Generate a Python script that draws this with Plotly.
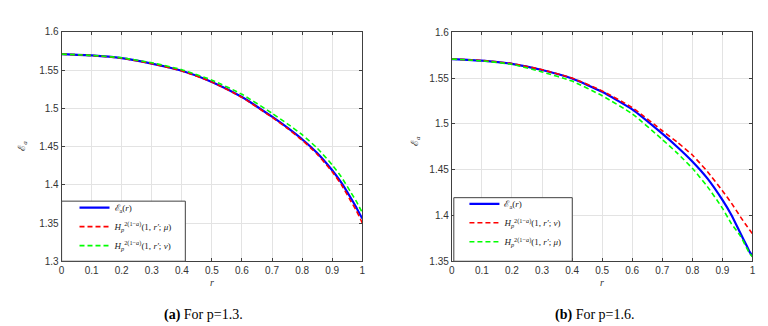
import plotly.graph_objects as go

# radius values sampled along the curves
r = [0, 0.1, 0.2, 0.3, 0.4, 0.5, 0.6, 0.7, 0.75, 0.8, 0.85, 0.9, 0.93, 0.96, 0.98, 0.99, 1.0]

# (a) p = 1.3
ea_a = [1.5708, 1.5691, 1.5655, 1.5585, 1.5490, 1.5345, 1.5148, 1.4890, 1.4750, 1.4595, 1.4415, 1.4190, 1.4030, 1.3840, 1.3705, 1.3630, 1.3560]
h_mu_a = [1.5708, 1.5691, 1.5655, 1.5584, 1.5488, 1.5342, 1.5143, 1.4882, 1.4740, 1.4583, 1.4400, 1.4170, 1.4005, 1.3800, 1.3665, 1.3585, 1.3500]
h_nu_a = [1.5708, 1.5692, 1.5660, 1.5595, 1.5505, 1.5368, 1.5183, 1.4935, 1.4800, 1.4655, 1.4480, 1.4260, 1.4105, 1.3915, 1.3785, 1.3710, 1.3640]

# (b) p = 1.6
ea_b = [1.5708, 1.5691, 1.5656, 1.5588, 1.5495, 1.5350, 1.5158, 1.4893, 1.4748, 1.4590, 1.4405, 1.4170, 1.4005, 1.3805, 1.3675, 1.3605, 1.3555]
h_nu_b = [1.5708, 1.5692, 1.5658, 1.5592, 1.5500, 1.5360, 1.5178, 1.4925, 1.4800, 1.4660, 1.4480, 1.4270, 1.4135, 1.3985, 1.3890, 1.3845, 1.3800]
h_mu_b = [1.5708, 1.5688, 1.5650, 1.5567, 1.5467, 1.5307, 1.5110, 1.4830, 1.4680, 1.4515, 1.4315, 1.4080, 1.3910, 1.3775, 1.3650, 1.3590, 1.3550]

x_ticks = [0, 0.1, 0.2, 0.3, 0.4, 0.5, 0.6, 0.7, 0.8, 0.9, 1]

lbl_e = "ℰ<sub>a</sub>(<i>r</i>)"
lbl_mu = "<i>H</i><sub><i>p</i></sub><sup>2(1−<i>a</i>)</sup>(1, <i>r′</i>; <i>μ</i>)"
lbl_nu = "<i>H</i><sub><i>p</i></sub><sup>2(1−<i>a</i>)</sup>(1, <i>r′</i>; <i>ν</i>)"

W, H = 768, 326

fig = go.Figure()

def add_panel(fig, xa, ya, leg, series):
    for name, y, color, dash, width in series:
        fig.add_trace(go.Scatter(
            x=r, y=y, mode='lines', name=name,
            line=dict(color=color, dash=dash, width=width, shape='spline', smoothing=0.5),
            xaxis=xa, yaxis=ya, legend=leg,
        ))

add_panel(fig, 'x', 'y', 'legend', [
    (lbl_e, ea_a, '#0000ff', 'solid', 2.2),
    (lbl_mu, h_mu_a, '#ff0000', '5px,3px', 1.6),
    (lbl_nu, h_nu_a, '#00ff00', '5px,3px', 1.6),
])
add_panel(fig, 'x2', 'y2', 'legend2', [
    (lbl_e, ea_b, '#0000ff', 'solid', 2.2),
    (lbl_nu, h_nu_b, '#ff0000', '5px,3px', 1.6),
    (lbl_mu, h_mu_b, '#00ff00', '5px,3px', 1.6),
])

axis_style = dict(
    showline=True, mirror='ticks', linecolor='#404040', linewidth=1,
    ticks='inside', ticklen=3, tickcolor='#404040',
    showgrid=True, gridcolor='#e3e3e3', gridwidth=1, zeroline=False,
    tickfont=dict(family='Liberation Sans', size=10, color='#333333'),
)

# plot areas in pixels: left, right, top, bottom
boxes = [(51, 354, 18.5, 256.7), (444.3, 747.3, 19, 256.7)]

fig.update_layout(
    xaxis=dict(axis_style, domain=[boxes[0][0] / W, boxes[0][1] / W], range=[0, 1],
               tickvals=x_ticks, anchor='y'),
    yaxis=dict(axis_style, domain=[1 - boxes[0][3] / H, 1 - boxes[0][2] / H], range=[1.3, 1.6],
               dtick=0.05, tick0=1.3, anchor='x'),
    xaxis2=dict(axis_style, domain=[boxes[1][0] / W, boxes[1][1] / W], range=[0, 1],
                tickvals=x_ticks, anchor='y2'),
    yaxis2=dict(axis_style, domain=[1 - boxes[1][3] / H, 1 - boxes[1][2] / H], range=[1.35, 1.6],
                dtick=0.05, tick0=1.35, anchor='x2'),
    width=W, height=H,
    margin=dict(l=0, r=0, t=0, b=0),
    paper_bgcolor='white', plot_bgcolor='white',
    showlegend=True,
)

leg_style = dict(
    bgcolor='rgba(0,0,0,0)', borderwidth=0, itemwidth=30,
    font=dict(family='Liberation Serif', size=9, color='#222222'),
    xanchor='left', yanchor='top', tracegroupgap=0,
)
fig.update_layout(
    legend=dict(leg_style, x=64 / W, y=1 - 186 / H),
    legend2=dict(leg_style, x=457 / W, y=1 - 182 / H),
)

# legend frames (white boxes hiding the grid, as in the original)
legend_boxes = [(51, 175.7, 194.3, 256.7), (446.3, 565.7, 190.7, 256.7)]
for x0, x1, y0, y1 in legend_boxes:
    fig.add_shape(type='rect', xref='paper', yref='paper',
                  x0=x0 / W, x1=x1 / W, y0=1 - y1 / H, y1=1 - y0 / H,
                  line=dict(color='#404040', width=1), fillcolor='white', layer='above')

# axis titles and captions
texts = [
    ("<i>r</i>", 202.3, 278.3, 10, 'Liberation Serif', 0),
    ("<i>r</i>", 595.7, 278.3, 10, 'Liberation Serif', 0),
    ("ℰ<sub><i>a</i></sub>", 12, 137, 10, 'Liberation Serif', -90),
    ("ℰ<sub><i>a</i></sub>", 407, 132, 10, 'Liberation Serif', -90),
    ("<b>(a)</b> For p=1.3.", 194, 312, 14, 'Liberation Serif', 0),
    ("<b>(b)</b> For p=1.6.", 588, 312, 14, 'Liberation Serif', 0),
]
for t, px, py, size, fam, ang in texts:
    fig.add_annotation(text=t, xref='paper', yref='paper', x=px / W, y=1 - py / H,
                       xanchor='center', yanchor='middle', showarrow=False, textangle=ang,
                       font=dict(family=fam, size=size, color='#000000' if size > 11 else '#333333'))

fig.write_html("out.html")
